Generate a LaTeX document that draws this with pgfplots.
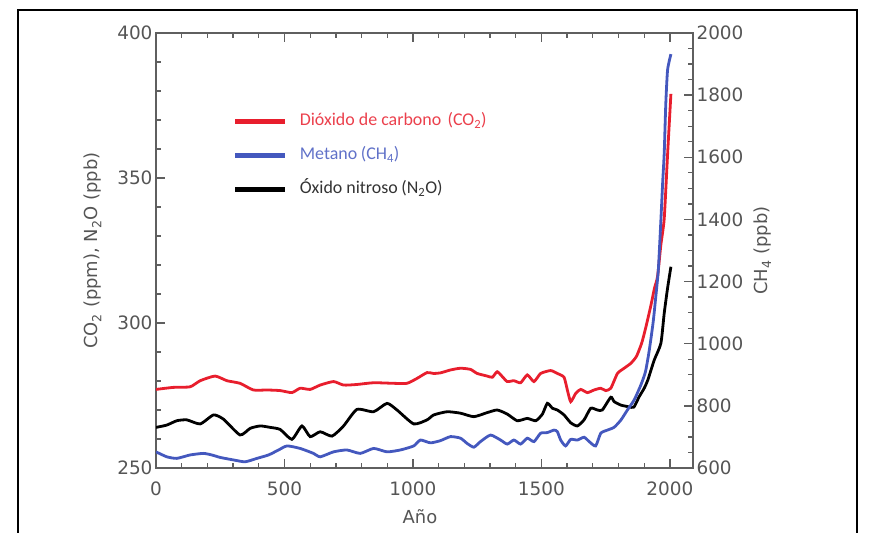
\documentclass[border=0pt]{standalone}
\usepackage{fontspec}
\setmainfont{DejaVu Sans}
\newfontfamily\carlito{Carlito}
\usepackage{pgfplots}
\usepackage{pgfplotstable}
\pgfplotsset{compat=1.18}

\definecolor{co2red}{RGB}{232,30,45}
\definecolor{ch4blue}{RGB}{68,88,190}
\definecolor{axgray}{RGB}{95,95,95}
\definecolor{txtgray}{RGB}{85,85,85}

% CO2 (ppm)
\pgfplotstableread{
yr val
0 277.1
68 277.8
133 278.0
172 280.1
230 281.7
276 280.1
327 279.2
379 276.9
432 276.9
483 276.7
529 276.0
561 277.5
600 277.1
639 278.6
691 279.8
730 278.6
782 278.8
847 279.4
925 279.2
977 279.2
1016 280.9
1055 282.9
1081 282.6
1107 282.8
1146 283.8
1185 284.4
1224 284.0
1250 282.6
1289 281.7
1309 281.3
1328 283.2
1348 281.5
1367 279.8
1393 280.1
1419 279.4
1445 282.1
1471 279.8
1497 282.6
1536 283.6
1562 282.6
1588 281.3
1601 276.9
1614 272.9
1634 275.8
1653 277.1
1679 276.0
1705 276.9
1731 277.5
1750 276.7
1770 277.5
1796 282.6
1822 284.4
1848 286.1
1870 288.5
1890 293.0
1905 298.0
1926 306.0
1940 312.0
1952 316.0
1965 327.0
1978 336.0
1991 358.0
2004 379.0
}\tabco

% N2O (ppb)
\pgfplotstableread{
yr val
0 264.0
42 264.8
81 266.3
120 266.6
172 265.2
224 268.3
263 266.8
327 261.4
367 263.7
406 264.5
445 264.0
483 263.3
529 259.9
568 264.5
600 260.8
639 262.5
685 261.0
730 264.5
782 270.2
847 269.4
899 272.3
938 270.0
1003 265.2
1055 266.6
1081 268.3
1133 269.4
1185 268.9
1237 267.7
1289 269.1
1328 270.0
1367 268.6
1406 266.3
1445 267.1
1478 266.3
1504 268.6
1523 272.3
1543 270.6
1562 270.0
1588 268.3
1614 265.6
1640 264.5
1666 266.6
1692 270.6
1718 270.0
1737 270.0
1770 274.4
1783 272.9
1809 271.7
1841 271.1
1860 271.0
1880 274.5
1900 277.5
1914 280.3
1939 287.2
1965 293.0
1978 303.4
1991 312.0
2004 319.4
}\tabnto

% CH4 (ppb)
\pgfplotstableread{
yr val
0 652
42 636
81 631
133 642
184 647
217 642
250 634
301 626
347 620
393 631
438 642
477 658
510 671
561 663
613 647
639 636
691 652
743 658
795 647
847 663
899 652
951 658
1003 671
1029 690
1068 681
1107 688
1146 701
1185 696
1211 679
1237 667
1263 685
1302 706
1341 690
1367 677
1393 690
1419 677
1445 696
1471 685
1497 712
1523 714
1549 722
1562 717
1575 690
1594 671
1614 692
1640 690
1666 699
1686 685
1711 671
1731 712
1757 722
1783 731
1809 754
1835 787
1861 819
1887 867
1905 910
1920 980
1935 1070
1945 1150
1955 1237
1965 1398
1972 1520
1978 1614
1984 1770
1991 1881
2004 1932
}\tabch

\pgfplotsset{
  common/.style={
    at={(156bp,65bp)}, anchor=south west,
    scale only axis, width=537bp, height=435bp,
    xmin=0, xmax=2090,
    tick align=inside,
    major tick length=9bp, minor tick length=5bp,
    axis line style={axgray, line width=1.2bp},
    every tick/.style={axgray, line width=1.4bp},
    every minor tick/.style={axgray, line width=1.3bp},
    ticklabel style={font=\fontsize{18.5}{20}\selectfont, text=txtgray},
    label style={font=\fontsize{18}{20}\selectfont, text=txtgray},
    /pgf/number format/assume math mode=true,
    /pgf/number format/set thousands separator={},
  },
}
\tikzset{tk/.style={axgray, line width=1.3bp}}

\begin{document}
\begin{tikzpicture}
\path[use as bounding box] (0,0) rectangle (874bp,533bp);
\draw[line width=2.6bp] (18bp,-5bp) -- (18bp,523bp) -- (857bp,523bp) -- (857bp,-5bp);

\begin{axis}[common,
  ymin=250, ymax=400,
  xtick={0,500,1000,1500,2000},
  minor xtick={100,200,...,2000},
  ytick={250,300,350,400},
  minor ytick={260,270,...,390},
  xtick pos=both, ytick pos=left,
  xticklabel style={yshift=-10bp},
  xlabel={Año},
  xlabel style={at={(axis description cs:0.4916,-0.1126)}, anchor=center},
  ylabel={CO\textsubscript{2} (ppm),\ N\textsubscript{2}O (ppb)},
  ylabel style={at={(axis description cs:-0.1173,0.5)}, anchor=center},
  legend style={at={(axis description cs:0.1434,0.815)}, anchor=north west,
    draw=none, fill=none, inner sep=0pt, row sep=18bp,
    font=\carlito\fontsize{18}{20}\selectfont,
    nodes={inner sep=0pt, text height=12bp, text depth=4bp, anchor=west}},
  legend cell align=left,
  legend image code/.code={
    \draw[#1, line width=4.5bp, sharp plot] (0bp,0bp) -- (50bp,0bp);
    \path (63bp,0bp);},
]
\addplot[co2red, line width=2.8bp, smooth, tension=0.35] table[x=yr, y=val] {\tabco};
\addlegendentry{\textcolor{co2red!85!white}{Dióxido de carbono\hspace{0.35em}(CO\textsubscript{2})}}
\addlegendimage{ch4blue, line width=2.8bp}
\addlegendentry{\textcolor{ch4blue!85!white}{Metano\hspace{0.2em}(CH\textsubscript{4})}}
\addplot[black, line width=2.8bp, smooth, tension=0.35] table[x=yr, y=val] {\tabnto};
\addlegendentry{\textcolor{black!80}{Óxido nitroso\hspace{0.2em}(N\textsubscript{2}O)}}
% tick marks on the box edges
\pgfplotsinvokeforeach{100,200,...,2000}{
  \draw[tk] (axis cs:#1,250) -- ([yshift=5bp]axis cs:#1,250);
  \draw[tk] (axis cs:#1,400) -- ([yshift=-5bp]axis cs:#1,400);
}
\pgfplotsinvokeforeach{500,1000,1500,2000}{
  \draw[tk] (axis cs:#1,250) -- ([yshift=9bp]axis cs:#1,250);
  \draw[tk] (axis cs:#1,400) -- ([yshift=-9bp]axis cs:#1,400);
}
\pgfplotsinvokeforeach{260,270,...,390}{
  \draw[tk] (axis cs:0,#1) -- ([xshift=5bp]axis cs:0,#1);
}
\pgfplotsinvokeforeach{300,350}{
  \draw[tk] (axis cs:0,#1) -- ([xshift=9bp]axis cs:0,#1);
}
\end{axis}

\begin{axis}[common,
  ymin=600, ymax=2000,
  axis x line=none,
  axis y line*=right,
  ytick={600,800,...,2000},
  minor ytick={650,700,...,1950},
  ytick pos=right,
  ylabel={CH\textsubscript{4} (ppb)},
  ylabel style={at={(axis description cs:1.1304,0.5)}, anchor=center, rotate=0},
]
\addplot[ch4blue, line width=2.8bp, smooth, tension=0.35] table[x=yr, y=val] {\tabch};
\pgfplotsinvokeforeach{650,700,...,1950}{
  \draw[tk] (axis cs:2090,#1) -- ([xshift=-5bp]axis cs:2090,#1);
}
\pgfplotsinvokeforeach{800,1000,...,1800}{
  \draw[tk] (axis cs:2090,#1) -- ([xshift=-9bp]axis cs:2090,#1);
}
\end{axis}
\end{tikzpicture}
\end{document}
